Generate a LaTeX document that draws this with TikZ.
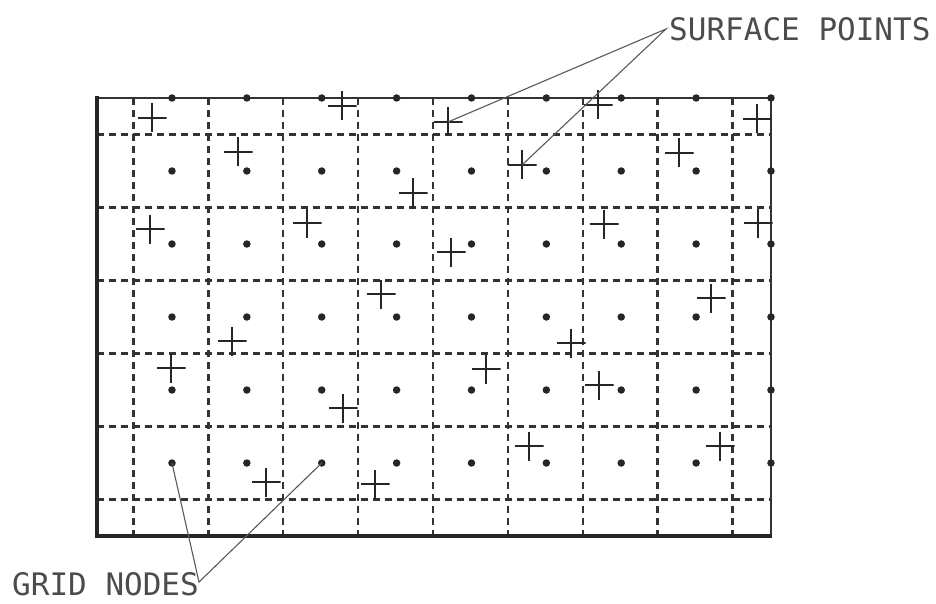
\documentclass[tikz,border=0pt]{standalone}
\usepackage{fontspec}
\newfontfamily\plotfont{DejaVu Sans Mono}
\begin{document}
\begin{tikzpicture}[x=1pt,y=-1pt,
  frame/.style={line width=3.4pt,black!85},
  thinframe/.style={line width=1.5pt,black!80},
  gridline/.style={line width=2.3pt,black!80,dash pattern=on 7pt off 5pt},
  dotnode/.style={circle,fill=black!85,inner sep=0pt,minimum size=7.5pt},
  spt/.style={inner sep=0pt,minimum size=29pt,
    path picture={\draw[line width=2.8pt,black!85]
      (path picture bounding box.north)--(path picture bounding box.south)
      (path picture bounding box.west)--(path picture bounding box.east);}},
  leader/.style={line width=1.1pt,black!65},
  lbl/.style={font=\plotfont\fontsize{31}{33}\selectfont,text=black!70,inner sep=0pt,anchor=west}]
\useasboundingbox (0,0) rectangle (936,604);
% dashed grid
\foreach \m in {0,...,8}{
  \draw[gridline] ({133.5+74.875*\m},98) -- ({133.5+74.875*\m},536);}
\foreach \j in {0,...,5}{
  \draw[gridline] (97,{134.5+73*\j}) -- (771,{134.5+73*\j});}
% frame
\draw[thinframe] (97,98) -- (771,98) -- (771,536);
\draw[frame] (97,96) -- (97,536) -- (772,536);
% grid nodes
\foreach \k in {1,...,9}{
  \foreach \j in {0,...,5}{
    \node[dotnode] (n-\k-\j) at ({97.1+74.875*\k},{98+73*\j}) {};}}
% surface points
\foreach \i/\px/\py in {1/152/118,2/342/106,3/448/122,4/598/105,5/757/119,
  6/238/152,7/413/193,8/522/165,9/679/153,
  10/150/229,11/307/223,12/451/252,13/604/224,14/758/223,
  15/381/294,16/711/298,17/232/341,18/571/343,
  19/171/368,20/343/408,21/486/369,22/599/385,
  23/266/482,24/375/484,25/529/446,26/720/446}{
  \node[spt] (p\i) at (\px,\py) {};}
% labels
\node[lbl] (surf) at (669,29) {SURFACE POINTS};
\node[lbl] (grid) at (12,584) {GRID NODES};
\coordinate (sp) at (666,29);
\coordinate (gn) at (199,582);
\draw[leader] (p3.center) -- (sp) -- (p8.center);
\draw[leader] (n-1-5.center) -- (gn) -- (n-3-5.center);
\end{tikzpicture}
\end{document}
